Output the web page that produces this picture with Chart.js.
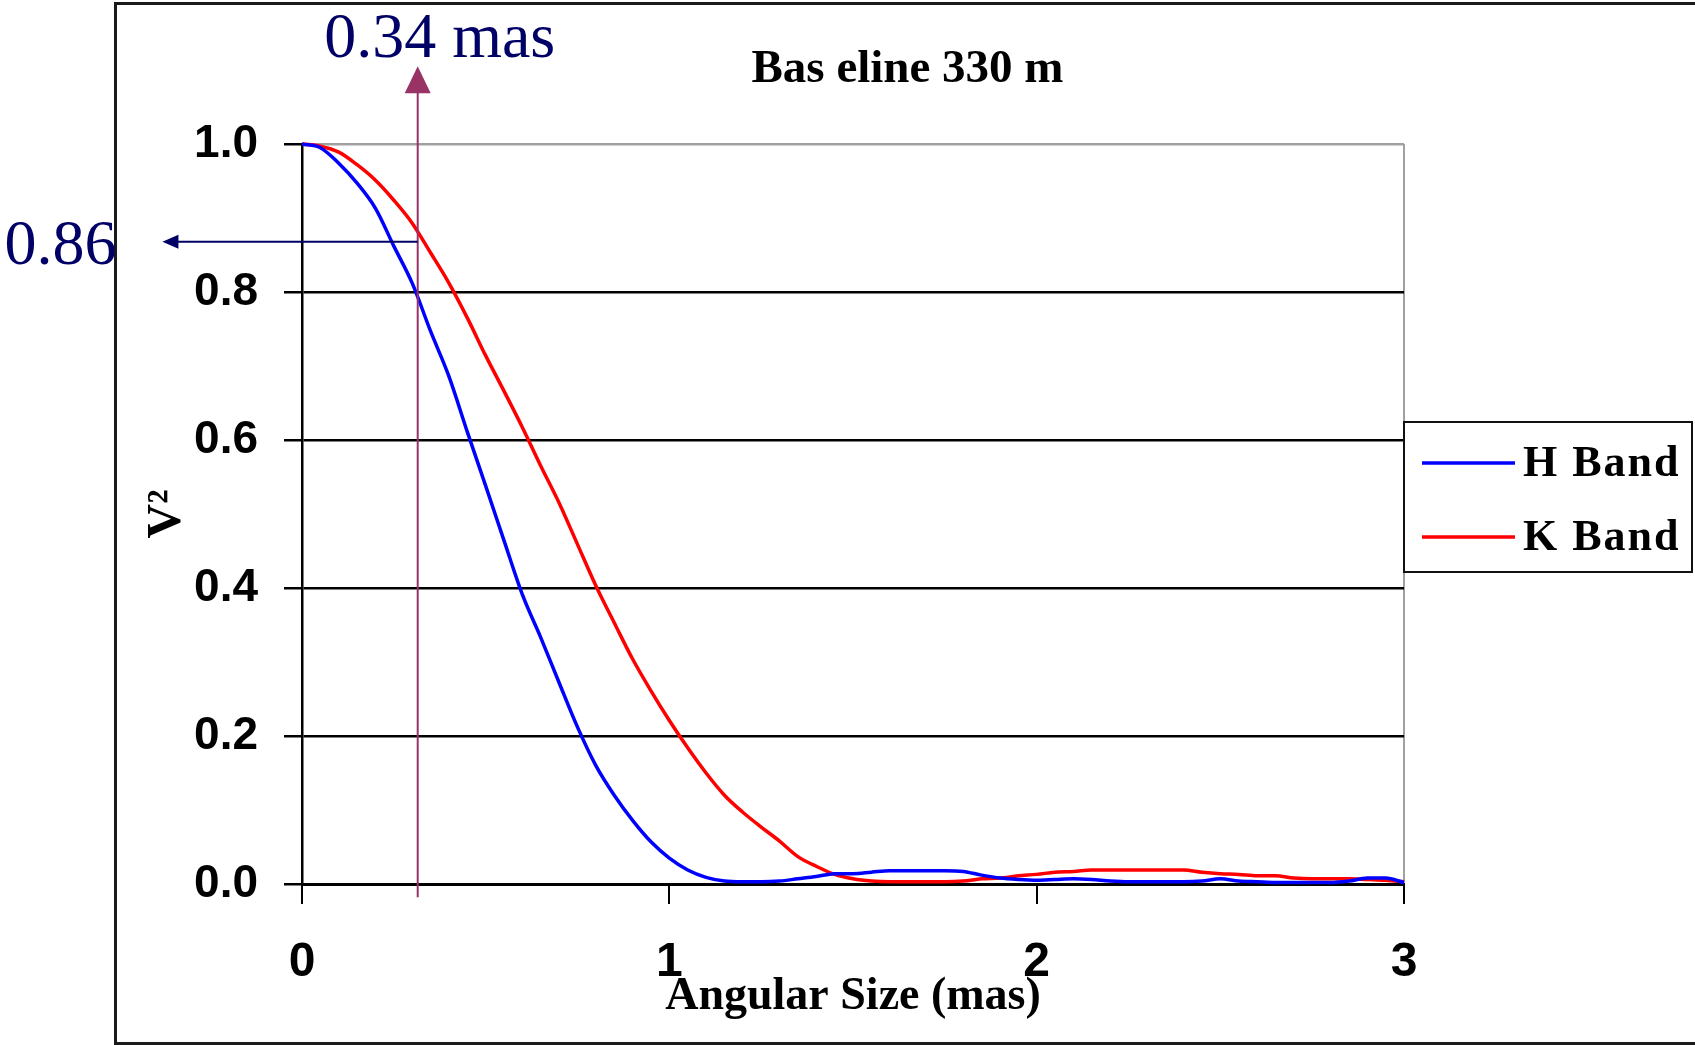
<!DOCTYPE html>
<html>
<head>
<meta charset="utf-8">
<script src="https://cdn.jsdelivr.net/npm/chart.js@4.4.1/dist/chart.umd.min.js"></script>
<style>
  html, body { margin: 0; padding: 0; background: #fff; }
  #wrap { width: 1695px; height: 1045px; }
</style>
</head>
<body>
<div id="wrap"><canvas id="chart"></canvas></div>
<script>
// angular size (mas), read every 0.05 mas off the plot
const angles = [
  0.00, 0.05, 0.10, 0.15, 0.20, 0.25, 0.30, 0.35, 0.40, 0.45,
  0.50, 0.55, 0.60, 0.65, 0.70, 0.75, 0.80, 0.85, 0.90, 0.95,
  1.00, 1.05, 1.10, 1.15, 1.20, 1.25, 1.30, 1.35, 1.40, 1.45,
  1.50, 1.55, 1.60, 1.65, 1.70, 1.75, 1.80, 1.85, 1.90, 1.95,
  2.00, 2.05, 2.10, 2.15, 2.20, 2.25, 2.30, 2.35, 2.40, 2.45,
  2.50, 2.55, 2.60, 2.65, 2.70, 2.75, 2.80, 2.85, 2.90, 2.95,
  3.00
]

const hBand = [
  1.000, 0.995, 0.974, 0.947, 0.913, 0.862, 0.812, 0.747, 0.686, 0.611,
  0.538, 0.464, 0.391, 0.333, 0.272, 0.212, 0.160, 0.120, 0.086, 0.057,
  0.035, 0.019, 0.009, 0.004, 0.003, 0.003, 0.004, 0.007, 0.010, 0.014,
  0.014, 0.016, 0.018, 0.018, 0.018, 0.018, 0.017, 0.012, 0.008, 0.006,
  0.005, 0.006, 0.007, 0.006, 0.004, 0.003, 0.003, 0.003, 0.003, 0.004,
  0.007, 0.004, 0.003, 0.002, 0.002, 0.002, 0.002, 0.004, 0.008, 0.008,
  0.002
]

const kBand = [
  1.000, 0.997, 0.989, 0.972, 0.951, 0.924, 0.893, 0.853, 0.812, 0.765,
  0.714, 0.666, 0.617, 0.565, 0.515, 0.459, 0.403, 0.353, 0.304, 0.261,
  0.221, 0.184, 0.150, 0.120, 0.097, 0.077, 0.058, 0.037, 0.024, 0.013,
  0.007, 0.004, 0.003, 0.003, 0.003, 0.003, 0.004, 0.007, 0.008, 0.011,
  0.013, 0.016, 0.017, 0.019, 0.019, 0.019, 0.019, 0.019, 0.019, 0.016,
  0.014, 0.013, 0.011, 0.011, 0.008, 0.007, 0.007, 0.007, 0.006, 0.005,
  0.003
]

const seriesNames = ['H Band', 'K Band']
const xTicks = [0, 1, 2, 3]
const yTicks = [0, 0.2, 0.4, 0.6, 0.8, 1.0]

const markerAngle = 0.315
const markerV2 = 0.868
const markerAngleLabel = '0.34 mas'
const markerV2Label = '0.86'

const chartTitle = 'Bas eline 330 m'
const xTitle = 'Angular Size (mas)'
const yTitle = 'V²'

const BLUE = '#0000ff'
const RED = '#ff0000'
const NAVY = '#000066'
const PLUM = '#993366'
const SERIF = '"Liberation Serif", "Times New Roman", serif'
const SANS = '"Liberation Sans", Arial, sans-serif'

const toPoints = values => values.map((v, i) => ({ x: angles[i], y: v }))

const decorations = {
    id: 'decorations',
    beforeDraw(chart) {
        const { ctx } = chart
        ctx.save()
        ctx.fillStyle = '#fff'
        ctx.fillRect(0, 0, chart.width, chart.height)
        ctx.strokeStyle = '#1a1a1a'
        ctx.lineWidth = 3
        ctx.strokeRect(115.5, 3.5, chart.width + 10, chart.height - 5)
        ctx.restore()
    },
    afterDraw(chart) {
        const { ctx, chartArea, scales: { x, y } } = chart
        ctx.save()

        // chart title, centred over the outer frame
        ctx.fillStyle = '#000'
        ctx.font = 'bold 47px ' + SERIF
        ctx.textAlign = 'center'
        ctx.textBaseline = 'alphabetic'
        ctx.fillText(chartTitle, (115 + chart.width + 5) / 2, chartArea.top - 62)

        // vertical arrow at the marked angle
        const xv = x.getPixelForValue(markerAngle)
        const yTip = y.getPixelForValue(1.105)
        const yFoot = y.getPixelForValue(-0.018)
        ctx.strokeStyle = PLUM
        ctx.fillStyle = PLUM
        ctx.lineWidth = 2
        ctx.beginPath()
        ctx.moveTo(xv, yFoot)
        ctx.lineTo(xv, yTip + 20)
        ctx.stroke()
        ctx.beginPath()
        ctx.moveTo(xv, yTip)
        ctx.lineTo(xv - 13, yTip + 27)
        ctx.lineTo(xv + 13, yTip + 27)
        ctx.closePath()
        ctx.fill()

        // horizontal arrow at the read visibility
        const yh = y.getPixelForValue(markerV2)
        const xEnd = x.getPixelForValue(-0.38)
        ctx.strokeStyle = NAVY
        ctx.fillStyle = NAVY
        ctx.beginPath()
        ctx.moveTo(xv, yh)
        ctx.lineTo(xEnd + 12, yh)
        ctx.stroke()
        ctx.beginPath()
        ctx.moveTo(xEnd, yh)
        ctx.lineTo(xEnd + 16, yh - 7)
        ctx.lineTo(xEnd + 16, yh + 7)
        ctx.closePath()
        ctx.fill()

        ctx.fillStyle = NAVY
        ctx.font = '64px ' + SERIF
        ctx.textAlign = 'center'
        ctx.fillText(markerAngleLabel, xv + 22, yTip - 9)
        ctx.textAlign = 'right'
        ctx.fillText(markerV2Label, xEnd - 46, yh + 22)

        // legend box
        const lx = chartArea.right
        const ly = chartArea.top + 278
        ctx.strokeStyle = '#111'
        ctx.lineWidth = 2
        ctx.strokeRect(lx, ly, 288, 150)
        ctx.font = 'bold 44px ' + SERIF
        ctx.letterSpacing = '2px'
        ctx.textAlign = 'left'
        const colors = [BLUE, RED]
        seriesNames.forEach((name, i) => {
            const rowY = ly + 41 + i * 74
            ctx.strokeStyle = colors[i]
            ctx.lineWidth = 3.5
            ctx.beginPath()
            ctx.moveTo(lx + 18, rowY)
            ctx.lineTo(lx + 111, rowY)
            ctx.stroke()
            ctx.fillStyle = '#000'
            ctx.fillText(name, lx + 119, rowY + 13)
        })

        ctx.restore()
    }
}

new Chart(document.getElementById('chart'), {
    type: 'line',
    data: {
        datasets: [
            {
                label: seriesNames[0],
                data: toPoints(hBand),
                borderColor: BLUE,
                backgroundColor: BLUE,
                borderWidth: 3.5,
                pointRadius: 0,
                cubicInterpolationMode: 'monotone',
                clip: 4
            },
            {
                label: seriesNames[1],
                data: toPoints(kBand),
                borderColor: RED,
                backgroundColor: RED,
                borderWidth: 3.5,
                pointRadius: 0,
                cubicInterpolationMode: 'monotone',
                clip: 4
            }
        ]
    },
    options: {
        responsive: true,
        maintainAspectRatio: false,
        animation: false,
        events: [],
        layout: { padding: { left: 118, top: 144, right: 291, bottom: 0 } },
        plugins: {
            legend: { display: false },
            tooltip: { enabled: false }
        },
        scales: {
            x: {
                type: 'linear',
                min: 0,
                max: 3,
                afterFit: scale => { scale.height = 161 },
                afterBuildTicks: scale => { scale.ticks = xTicks.map(v => ({ value: v })) },
                ticks: {
                    color: '#000',
                    padding: 35,
                    font: { family: SANS, weight: 'bold', size: 48, lineHeight: 1 }
                },
                grid: {
                    color: c => c.tick && c.tick.value === 3 ? '#a0a0a0' : 'rgba(0,0,0,0)',
                    lineWidth: 2,
                    tickColor: '#000',
                    tickWidth: 2,
                    tickLength: 20
                },
                border: { color: '#000', width: 3 },
                title: {
                    display: true,
                    text: xTitle,
                    color: '#000',
                    padding: { top: 0, bottom: 25 },
                    font: { family: SERIF, weight: 'bold', size: 46, lineHeight: 1 }
                }
            },
            y: {
                min: 0,
                max: 1,
                afterFit: scale => { scale.width = 184 },
                afterBuildTicks: scale => { scale.ticks = yTicks.map(v => ({ value: v })) },
                ticks: {
                    color: '#000',
                    padding: 26,
                    callback: v => v.toFixed(1),
                    font: { family: SANS, weight: 'bold', size: 46, lineHeight: 1 }
                },
                grid: {
                    color: c => c.tick && c.tick.value === 1 ? '#a0a0a0' : '#000',
                    lineWidth: 2.5,
                    tickColor: '#000',
                    tickWidth: 2.5,
                    tickLength: 18
                },
                border: { color: '#000', width: 2.5 },
                title: {
                    display: true,
                    text: yTitle,
                    color: '#000',
                    padding: { top: 26, bottom: 0 },
                    font: { family: SERIF, weight: 'bold', size: 48, lineHeight: 1 }
                }
            }
        }
    },
    plugins: [decorations]
})
</script>
</body>
</html>
